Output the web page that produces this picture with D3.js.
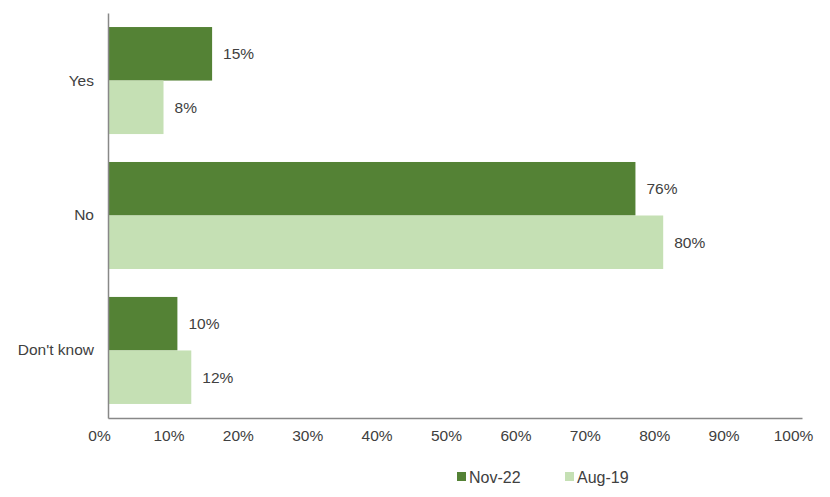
<!DOCTYPE html>
<html>
<head>
<meta charset="utf-8">
<script src="https://cdn.jsdelivr.net/npm/d3@7"></script>
<style>
  body { margin: 0; background: #fff; }
  text { font-family: "Liberation Sans", Arial, sans-serif; fill: #404040; }
</style>
</head>
<body>
<svg id="chart" width="830" height="497"></svg>
<script>
// answers, top to bottom
const categories = ["Yes", "No", "Don't know"]
const seriesNames = ["Nov-22", "Aug-19"]
const nov22 = [15, 76, 10]
const aug19 = [8, 80, 12]
const ticks = [0, 10, 20, 30, 40, 50, 60, 70, 80, 90, 100]
const colors = ["#548235", "#c5e0b4"]

const margin = { top: 13, left: 108, right: 28, bottom: 79 }
const width = 830 - margin.left - margin.right
const height = 497 - margin.top - margin.bottom
const fontSize = "15.5px"

const svg = d3.select("#chart")
const g = svg.append("g").attr("transform", `translate(${margin.left},${margin.top})`)

const x = d3.scaleLinear().domain([0, 100]).range([0, width])
const y = d3.scaleBand().domain(categories).range([0, height]).paddingInner(0.207).paddingOuter(0.104)
const ySub = d3.scaleBand().domain(seriesNames).range([0, y.bandwidth()])

const rows = categories.map((c, i) => ({ key: c, values: [nov22[i], aug19[i]] }))

const groups = g.selectAll(".cat").data(rows).join("g")
  .attr("class", "cat")
  .attr("transform", d => `translate(0,${y(d.key)})`)

groups.selectAll("rect").data(d => d.values.map((v, j) => ({ s: seriesNames[j], v, j })))
  .join("rect")
  .attr("x", 0)
  .attr("y", d => ySub(d.s))
  .attr("width", d => x(d.v))
  .attr("height", ySub.bandwidth())
  .attr("fill", d => colors[d.j])

groups.selectAll(".lbl").data(d => d.values.map((v, j) => ({ s: seriesNames[j], v })))
  .join("text")
  .attr("class", "lbl")
  .attr("x", d => x(d.v) + 11)
  .attr("y", d => ySub(d.s) + ySub.bandwidth() / 2)
  .attr("dy", "0.35em")
  .style("font-size", fontSize)
  .text(d => d.v + "%")

// axes
const xAxis = g.append("g")
  .attr("transform", `translate(0,${height})`)
  .call(d3.axisBottom(x).tickValues(ticks).tickSize(0).tickPadding(12).tickFormat(d => d + "%"))
xAxis.select(".domain").attr("stroke", "#888").attr("stroke-width", 1.5)
// labels sit a little left of their tick in the original
xAxis.selectAll("text").style("font-size", fontSize).attr("fill", "#595959").attr("dx", -9)

const yAxis = g.append("g")
  .call(d3.axisLeft(y).tickSize(0).tickPadding(14))
yAxis.select(".domain").attr("stroke", "#888").attr("stroke-width", 1.5)
yAxis.selectAll("text").style("font-size", fontSize).attr("fill", "#404040")

// legend
const legend = svg.append("g").attr("transform", "translate(457,477)")
const items = legend.selectAll("g").data(seriesNames).join("g")
  .attr("transform", (d, i) => `translate(${i * 108},0)`)
items.append("rect").attr("x", 0).attr("y", -5).attr("width", 9).attr("height", 9)
  .attr("fill", (d, i) => colors[i])
items.append("text").attr("x", 12).attr("dy", "0.35em").style("font-size", "16px").text(d => d)
</script>
</body>
</html>
